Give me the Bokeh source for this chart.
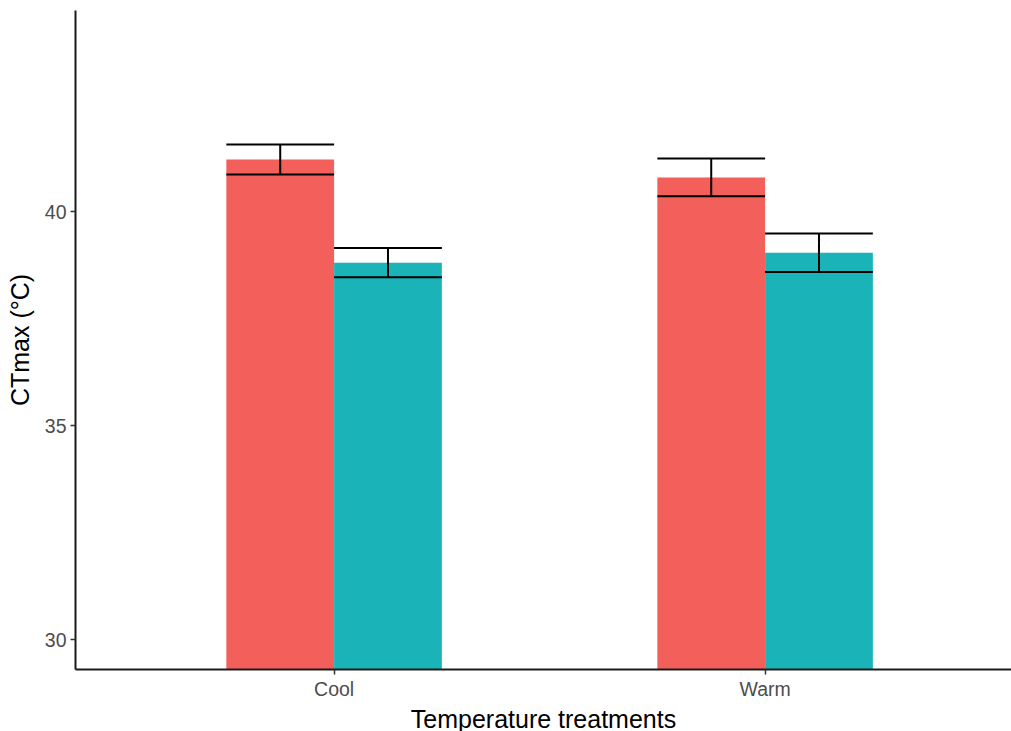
from bokeh.plotting import figure
from bokeh.models import Range1d, FixedTicker, ColumnDataSource
from bokeh.embed import file_html
from bokeh.resources import INLINE

# Mean CTmax (°C) with standard errors for two groups per temperature treatment
treatments = ["Cool", "Warm"]
group_a_mean = [41.22, 40.80]
group_a_se = [0.35, 0.44]
group_b_mean = [38.81, 39.04]
group_b_se = [0.34, 0.45]
y_ticks = [30, 35, 40]

colors = {"a": "#F35F5B", "b": "#19B3B8"}
dodge = 0.125
bar_w = 0.25
FONT = "Liberation Sans"

p = figure(
    frame_width=936, frame_height=659,
    x_range=Range1d(0.4, 0.4 + 936 / 431.0),
    y_range=Range1d(29.306, 44.70),
    output_backend="svg", toolbar_location=None,
    min_border_left=75, min_border_top=10, min_border_right=0, min_border_bottom=62,
    background_fill_color="white", border_fill_color="white",
)
p.outline_line_color = None
p.xgrid.visible = False
p.ygrid.visible = False

positions = [i + 1 for i in range(len(treatments))]

for key, means, ses, off in [("a", group_a_mean, group_a_se, -dodge),
                             ("b", group_b_mean, group_b_se, dodge)]:
    xs = [x + off for x in positions]
    src = ColumnDataSource(dict(
        x=xs, top=means,
        lo=[m - s for m, s in zip(means, ses)],
        hi=[m + s for m, s in zip(means, ses)],
        x0=[x - bar_w / 2 for x in xs],
        x1=[x + bar_w / 2 for x in xs],
    ))
    p.vbar(x="x", top="top", bottom=0, width=bar_w, source=src,
           fill_color=colors[key], line_color=None)
    # error bars: stem and caps spanning the bar width
    p.segment(x0="x", y0="lo", x1="x", y1="hi", source=src,
              line_color="black", line_width=2)
    p.segment(x0="x0", y0="hi", x1="x1", y1="hi", source=src,
              line_color="black", line_width=2)
    p.segment(x0="x0", y0="lo", x1="x1", y1="lo", source=src,
              line_color="black", line_width=2)

# axes
p.xaxis.ticker = FixedTicker(ticks=positions)
p.xaxis.major_label_overrides = {pos: name for pos, name in zip(positions, treatments)}
p.yaxis.ticker = FixedTicker(ticks=y_ticks)
p.xaxis.minor_tick_line_color = None
p.yaxis.minor_tick_line_color = None

for ax in (p.xaxis, p.yaxis):
    ax.axis_line_color = "#1a1a1a"
    ax.axis_line_width = 2
    ax.major_tick_line_color = "#333333"
    ax.major_tick_line_width = 1.5
    ax.major_tick_in = 0
    ax.major_tick_out = 5
    ax.major_label_text_font = FONT
    ax.major_label_text_font_size = "19.5px"
    ax.major_label_text_color = "#4D4D4D"
    ax.axis_label_text_font = FONT
    ax.axis_label_text_font_size = "25px"
    ax.axis_label_text_font_style = "normal"
    ax.axis_label_text_color = "black"

p.xaxis.axis_label = "Temperature treatments"
p.yaxis.axis_label = "CTmax (°C)"
p.xaxis.major_label_standoff = 3
p.xaxis.axis_label_standoff = 2
p.yaxis.major_label_standoff = 4
p.yaxis.axis_label_standoff = 8

open("out.html", "w").write(file_html(p, INLINE))
